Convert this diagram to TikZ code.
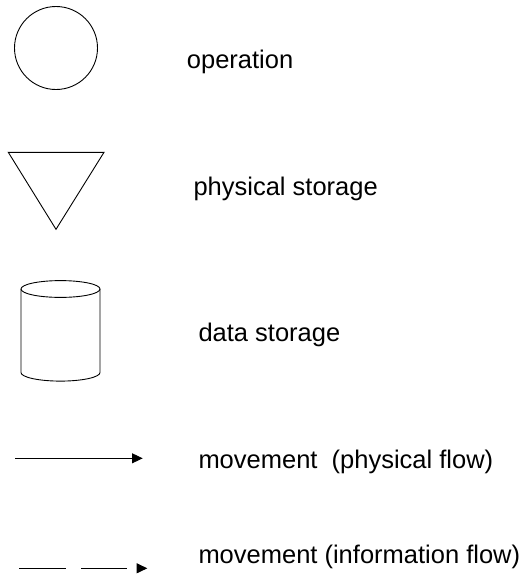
\documentclass[tikz,border=0pt]{standalone}
\usepackage{fontspec}
\setmainfont{Liberation Sans}
\usetikzlibrary{arrows.meta}
\begin{document}
\begin{tikzpicture}[x=1pt,y=-1pt,
  sym/.style={draw=black,line width=0.9pt},
  lbl/.style={anchor=base west,inner sep=0pt,font=\fontsize{25.5}{30}\selectfont},
  flow/.style={draw=black,line width=0.9pt,-{Triangle[length=10.7pt,width=10pt]}},
  infoflow/.style={flow,dash pattern=on 46.4pt off 15.3pt}]
\useasboundingbox[fill=white] (0,0) rectangle (523,582);
% operation
\node[sym,circle,minimum size=83pt,inner sep=0pt] (op) at (56,48) {};
\node[lbl] (oplbl) at (186.7,68.3) {operation};
% physical storage
\draw[sym] (8.3,152.3) -- (104,152.3) -- (56,229.3) -- cycle;
\node[lbl] (pslbl) at (193.3,195.7) {physical storage};
% data storage
\draw[sym] (60.5,289) ellipse [x radius=39.5, y radius=8.4];
\draw[sym] (21,289) -- (21,372.5) arc[start angle=180,end angle=0,x radius=39.5,y radius=8.6] -- (100,289);
\node[lbl] (dslbl) at (198.3,341.7) {data storage};
% movement (physical flow)
\coordinate (pa) at (15,458.3);
\coordinate (pb) at (142.7,458.3);
\draw[flow] (pa) -- (pb);
\node[lbl] (pflbl) at (198.3,468.3) {movement\ \ (physical flow)};
% movement (information flow)
\coordinate (ia) at (19.3,568.3);
\coordinate (ib) at (147.3,568.3);
\draw[infoflow] (ia) -- (ib);
\node[lbl] (iflbl) at (198.3,563.3) {movement (information flow)};
\end{tikzpicture}
\end{document}
